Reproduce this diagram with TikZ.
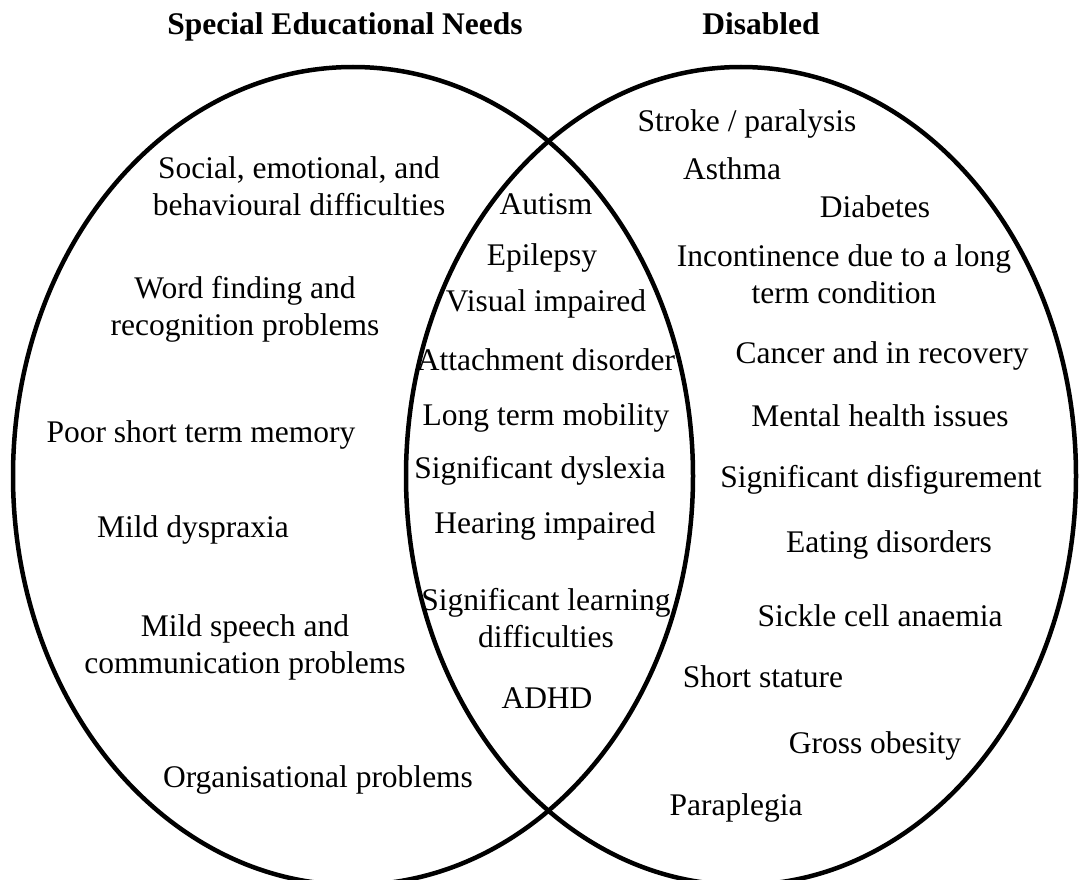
\documentclass[tikz,border=0pt]{standalone}
\usepackage{fontspec}
\setmainfont{Liberation Serif}
\begin{document}
\begin{tikzpicture}[x=1pt,y=-1pt,
  item/.style={font=\fontsize{31.5}{36.5}\selectfont, inner sep=0pt, align=center, anchor=base},
  title/.style={font=\fontsize{31.5}{36.5}\selectfont\bfseries, inner sep=0pt, anchor=base},
  set/.style={draw=black, line width=4.5pt}]
\useasboundingbox (0,0) rectangle (1082,880);
% sets
\draw[set] (353,476) ellipse [x radius=340, y radius=409];
\draw[set] (741,476) ellipse [x radius=335, y radius=409];
% titles
\node[title] (tsen) at (345,35) {Special Educational Needs};
\node[title] (tdis) at (761,35) {Disabled};
% SEN only
\node[item] (soc) at (299,215) {Social, emotional, and\\behavioural difficulties};
\node[item] (word) at (245,335) {Word finding and\\recognition problems};
\node[item] (mem) at (201,442) {Poor short term memory};
\node[item] (dysp) at (193,537) {Mild dyspraxia};
\node[item] (speech) at (245,673) {Mild speech and\\communication problems};
\node[item] (org) at (318,787) {Organisational problems};
% both
\node[item] (aut) at (546,214) {Autism};
\node[item] (epi) at (542,265) {Epilepsy};
\node[item] (vis) at (546,311) {Visual impaired};
\node[item] (att) at (546,370) {Attachment disorder};
\node[item] (ltm) at (546,425) {Long term mobility};
\node[item] (sdy) at (540,478) {Significant dyslexia};
\node[item] (hear) at (545,533) {Hearing impaired};
\node[item] (sld) at (546,647) {Significant learning\\difficulties};
\node[item] (adhd) at (547,708) {ADHD};
% disabled only
\node[item] (stroke) at (747,132) {Stroke / paralysis};
\node[item] (asthma) at (732,179) {Asthma};
\node[item] (diab) at (875,217) {Diabetes};
\node[item] (incont) at (844,303) {Incontinence due to a long\\term condition};
\node[item] (cancer) at (882,363) {Cancer and in recovery};
\node[item] (mental) at (880,426) {Mental health issues};
\node[item] (disfig) at (881,487) {Significant disfigurement};
\node[item] (eating) at (889,552) {Eating disorders};
\node[item] (sickle) at (880,626) {Sickle cell anaemia};
\node[item] (short) at (763,687) {Short stature};
\node[item] (obes) at (875,753) {Gross obesity};
\node[item] (para) at (736,815) {Paraplegia};
\end{tikzpicture}
\end{document}
